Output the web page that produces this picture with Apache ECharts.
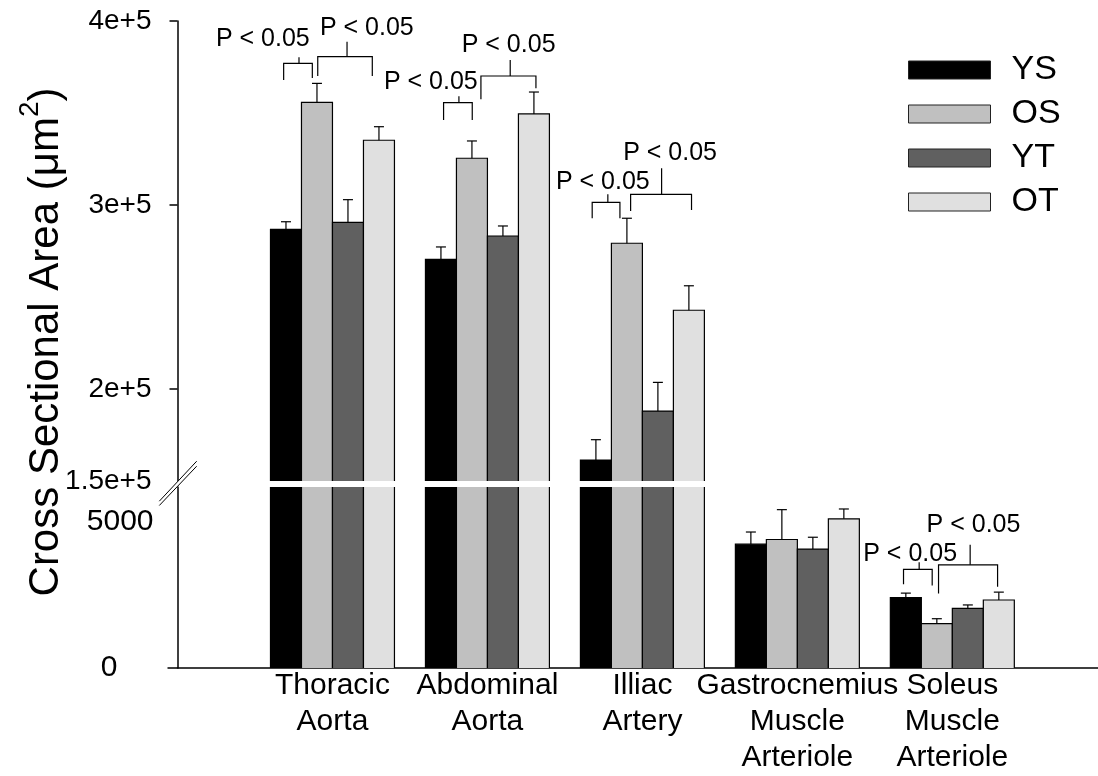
<!DOCTYPE html>
<html><head><meta charset="utf-8">
<script src="https://cdn.jsdelivr.net/npm/echarts@6/dist/echarts.min.js"></script>
<style>html,body{margin:0;padding:0;background:#fff}#c{width:1098px;height:776px}</style>
</head><body><div id="c"></div>
<script>
// ---------- data ----------
const categories = ['Thoracic\nAorta', 'Abdominal\nAorta', 'Illiac\nArtery', 'Gastrocnemius\nMuscle\nArteriole', 'Soleus\nMuscle\nArteriole'];
const groups = ['YS', 'OS', 'YT', 'OT'];
const ysValues = [286800, 270500, 161400, 4242, 2410];
const ysErrors = [4100, 6700, 11050, 416, 155];
const osValues = [355800, 325400, 279200, 4401, 1519];
const osErrors = [10300, 9400, 13600, 1023, 169];
const ytValues = [290600, 283150, 188000, 4074, 2039];
const ytErrors = [12300, 5450, 15600, 405, 121];
const otValues = [335200, 349500, 242800, 5110, 2329];
const otErrors = [7350, 11900, 13300, 337, 270];
const upperTickValues = [150000, 200000, 300000, 400000];
const upperTickLabels = ['1.5e+5', '2e+5', '3e+5', '4e+5'];
const upperTickMarks = [200000, 300000, 400000];
const lowerTickValues = [0, 5000];
const lowerTickLabels = ['0', '5000'];
const sigLabel = 'P < 0.05';
// significance brackets: [xLeft, xRight, yBar, yLeftEnd, yRightEnd, xStub, yStubTop, xText, yText]
const upperBrackets = [
  [0.685, 0.870, 377000, 368000, 369000, 0.784, 380300, 0.248, 390200],
  [0.905, 1.257, 380600, 370100, 370100, 1.094, 388750, 0.919, 396000],
  [1.717, 1.902, 355600, 346200, 346200, 1.816, 359100, 1.332, 367000],
  [1.958, 2.313, 370100, 357450, 363400, 2.147, 378800, 1.834, 387000],
  [2.676, 2.855, 301470, 292770, 292770, 2.777, 305800, 2.442, 312660],
  [2.924, 3.317, 305800, 296740, 297280, 3.124, 319950, 2.876, 328420]
];
const lowerBrackets = [
  [4.685, 4.870, 3375, 2869, 2825, 4.786, 3625, 4.425, 3905],
  [4.911, 5.292, 3534, 2555, 2781, 5.115, 4219, 4.834, 4894]
];

// ---------- setup ----------
const FONT = '"Liberation Sans", Arial, Helvetica, sans-serif';
const colors = ['#000000', '#c0c0c0', '#606060', '#e0e0e0'];
const offsets = [-0.3, -0.1, 0.1, 0.3];
const halfW = 0.1;
const values = [ysValues, osValues, ytValues, otValues];
const errors = [ysErrors, osErrors, ytErrors, otErrors];
const UP = {min: 150000, max: 400000};
const LO = {min: 0, max: 6200};
const XMAX = 5.94;

function barRender(s, rng) {
  return function (params, api) {
    const xc = api.value(0) + offsets[s];
    const v = api.value(1), e = api.value(2);
    if (v <= rng.min) return null;
    const top = Math.min(v, rng.max);
    const pL = api.coord([xc - halfW, top]);
    const pR = api.coord([xc + halfW, rng.min]);
    const ls = {stroke: '#000', lineWidth: 1.2, fill: null};
    const ch = [{type: 'rect', shape: {x: pL[0], y: pL[1], width: pR[0] - pL[0], height: pR[1] - pL[1]}, style: {fill: colors[s]}}];
    if (v <= rng.max) {
      ch.push({type: 'polyline', shape: {points: [[pL[0], pR[1]], [pL[0], pL[1]], [pR[0], pL[1]], [pR[0], pR[1]]]}, style: ls});
      if (v + e <= rng.max) {
        const a = api.coord([xc, v]);
        const b = api.coord([xc, v + e]);
        ch.push({type: 'line', shape: {x1: a[0], y1: a[1], x2: b[0], y2: b[1]}, style: ls});
        ch.push({type: 'line', shape: {x1: b[0] - 5, y1: b[1], x2: b[0] + 5, y2: b[1]}, style: ls});
      }
    } else {
      ch.push({type: 'line', shape: {x1: pL[0], y1: pL[1], x2: pL[0], y2: pR[1]}, style: ls});
      ch.push({type: 'line', shape: {x1: pR[0], y1: pL[1], x2: pR[0], y2: pR[1]}, style: ls});
    }
    return {type: 'group', children: ch};
  };
}

function bracketRender(params, api) {
  const g = i => api.value(i);
  const p1 = api.coord([g(0), g(3)]), p2 = api.coord([g(0), g(2)]);
  const p3 = api.coord([g(1), g(2)]), p4 = api.coord([g(1), g(4)]);
  const s1 = api.coord([g(5), g(2)]), s2 = api.coord([g(5), g(6)]);
  const t = api.coord([g(7), g(8)]);
  const ls = {stroke: '#000', lineWidth: 1.2, fill: null};
  return {type: 'group', children: [
    {type: 'polyline', shape: {points: [p1, p2, p3, p4]}, style: ls},
    {type: 'line', shape: {x1: s1[0], y1: s1[1], x2: s2[0], y2: s2[1]}, style: ls},
    {type: 'text', x: t[0], y: t[1], style: {text: sigLabel, fill: '#000', font: '25px ' + FONT, align: 'left', verticalAlign: 'middle'}}
  ]};
}

function breakRender(params, api) {
  const c = api.coord([0, LO.max]);
  const cx = c[0] + 0.5, cy = c[1] - 3.5;
  const A = [[-18.7, 17.7], [18.7, -22.3]];
  const B = [[-18.7, 22], [18.7, -17.3]];
  const P = pts => pts.map(p => [cx + p[0], cy + p[1]]);
  return {type: 'group', children: [
    {type: 'polygon', shape: {points: P([A[0], A[1], B[1], B[0]])}, style: {fill: '#fff'}},
    {type: 'line', shape: {x1: cx + A[0][0], y1: cy + A[0][1], x2: cx + A[1][0], y2: cy + A[1][1]}, style: {stroke: '#000', lineWidth: 1}},
    {type: 'line', shape: {x1: cx + B[0][0], y1: cy + B[0][1], x2: cx + B[1][0], y2: cy + B[1][1]}, style: {stroke: '#000', lineWidth: 1}}
  ]};
}

const series = [];
[[0, UP], [1, LO]].forEach(([gi, rng]) => {
  groups.forEach((name, s) => {
    series.push({
      type: 'custom', name, xAxisIndex: gi, yAxisIndex: gi, clip: true,
      itemStyle: {color: colors[s]},
      renderItem: barRender(s, rng),
      data: categories.map((c, i) => [i + 1, values[s][i], errors[s][i]]),
      z: 2
    });
  });
});
series.push({type: 'custom', xAxisIndex: 0, yAxisIndex: 0, clip: false, renderItem: bracketRender, data: upperBrackets, z: 3, silent: true});
series.push({type: 'custom', xAxisIndex: 1, yAxisIndex: 1, clip: false, renderItem: bracketRender, data: lowerBrackets, z: 3, silent: true});
series.push({type: 'custom', xAxisIndex: 1, yAxisIndex: 1, clip: false, renderItem: breakRender, data: [[0]], z: 10, silent: true});

const axisLineStyle = {color: '#000', width: 1.5};
const xLabelStyle = vals => ({customValues: vals, formatter: v => categories[Math.round(v) - 1] || '',
  showMinLabel: true, showMaxLabel: true, hideOverlap: false,
  fontSize: 30, lineHeight: 36, color: '#000', margin: 0, fontFamily: FONT});
const option = {
  animation: false,
  backgroundColor: '#fff',
  textStyle: {fontFamily: FONT, color: '#000'},
  grid: [
    {left: 177.5, right: 0, top: 21, bottom: 295, containLabel: false},
    {left: 177.5, right: 0, top: 487, bottom: 105.3, containLabel: false}
  ],
  xAxis: [
    {type: 'value', gridIndex: 0, min: 0, max: XMAX, show: false},
    {type: 'value', gridIndex: 1, min: 0, max: XMAX, interval: 1,
     axisLine: {show: true, lineStyle: axisLineStyle}, axisTick: {show: false}, splitLine: {show: false},
     axisLabel: xLabelStyle([1, 2, 3, 5])},
    {type: 'value', gridIndex: 1, min: 0, max: XMAX, interval: 1, position: 'bottom', offset: 0,
     axisLine: {show: false}, axisTick: {show: false}, splitLine: {show: false},
     axisLabel: xLabelStyle([4])}
  ],
  yAxis: [
    {type: 'value', gridIndex: 0, min: UP.min, max: UP.max,
     axisLine: {show: true, lineStyle: axisLineStyle},
     axisTick: {show: true, customValues: upperTickMarks, length: 8, lineStyle: axisLineStyle},
     axisLabel: {customValues: upperTickValues, formatter: v => upperTickLabels[upperTickValues.indexOf(v)] || '',
       showMinLabel: true, showMaxLabel: true,
       fontSize: 28, color: '#000', margin: 26, fontFamily: FONT},
     splitLine: {show: false}},
    {type: 'value', gridIndex: 1, min: LO.min, max: LO.max,
     axisLine: {show: true, lineStyle: axisLineStyle},
     axisTick: {show: true, customValues: [0], length: 10, lineStyle: axisLineStyle},
     axisLabel: {customValues: lowerTickValues, showMinLabel: true, showMaxLabel: true,
       formatter: v => v === 0 ? '{z|' + lowerTickLabels[0] + '}' : '{n|' + lowerTickLabels[lowerTickValues.indexOf(v)] + '}',
       rich: {z: {fontSize: 30, padding: [0, 36, 0, 0], fontFamily: FONT, color: '#000'}, n: {fontSize: 30, fontFamily: FONT, color: '#000'}},
       margin: 24, color: '#000', fontFamily: FONT},
     splitLine: {show: false}}
  ],
  legend: {
    orient: 'vertical', left: 908, top: 53, padding: 0, itemWidth: 82, itemHeight: 18, itemGap: 10,
    icon: 'rect', selectedMode: false,
    data: groups.map((g, i) => ({name: g, itemStyle: {color: colors[i], borderColor: '#222', borderWidth: 1}})),
    formatter: name => '{t|' + name + '}',
    textStyle: {color: '#000', fontFamily: FONT, rich: {t: {fontSize: 34, lineHeight: 34, padding: [0, 0, 0, 16], fontFamily: FONT, color: '#000'}}}
  },
  graphic: [{
    type: 'text', x: 40, y: 342, rotation: Math.PI / 2,
    style: {
      text: '{a|Cross Sectional Area (μm}{s|2}{a|)}',
      align: 'center', verticalAlign: 'middle',
      rich: {
        a: {fontSize: 42, lineHeight: 42, fontFamily: FONT, fill: '#000', color: '#000', padding: [12, 0, 0, 0]},
        s: {fontSize: 28, lineHeight: 28, fontFamily: FONT, fill: '#000', color: '#000', padding: [0, 0, 20, 0]}
      }
    }
  }],
  series
};
const chart = echarts.init(document.getElementById('c'), null, {renderer: 'canvas'});
chart.setOption(option);
</script></body></html>
